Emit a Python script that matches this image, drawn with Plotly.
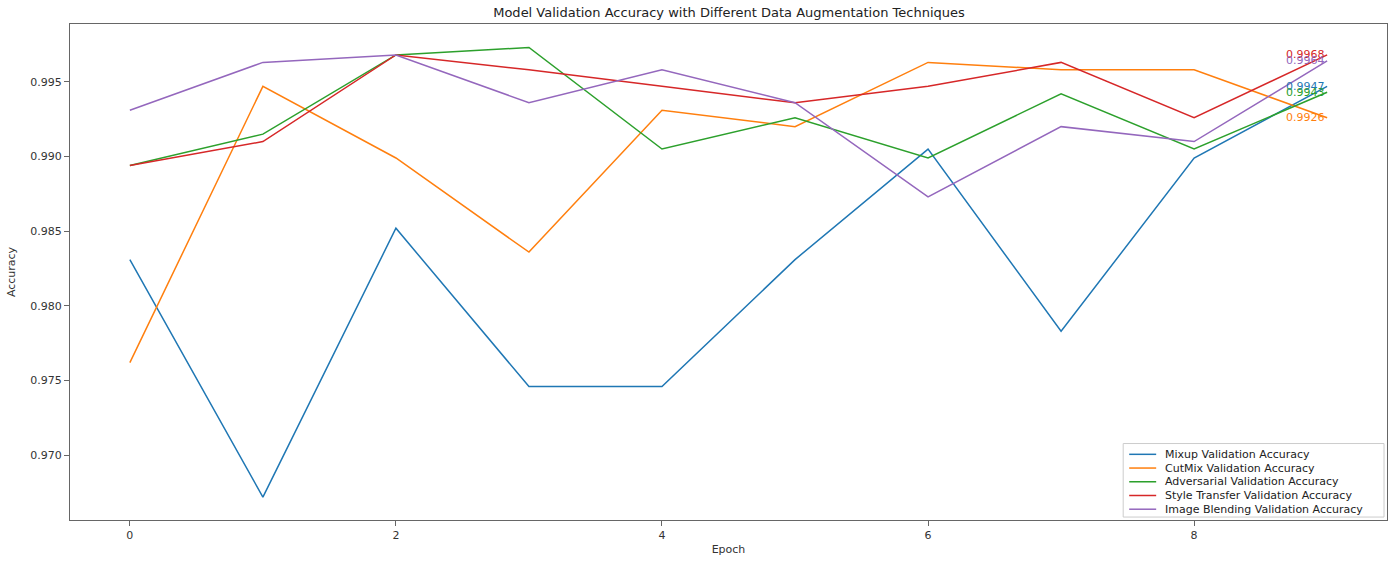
import plotly.graph_objects as go

# Validation accuracy per epoch for each augmentation technique
epochs = list(range(10))

mixup_acc = [0.9831, 0.9672, 0.9852, 0.9746, 0.9746, 0.9831, 0.9905, 0.9783, 0.9899, 0.9947]
cutmix_acc = [0.9762, 0.9947, 0.9899, 0.9836, 0.9931, 0.9920, 0.9963, 0.9958, 0.9958, 0.9926]
adversarial_acc = [0.9894, 0.9915, 0.9968, 0.9973, 0.9905, 0.9926, 0.9899, 0.9942, 0.9905, 0.9943]
style_transfer_acc = [0.9894, 0.9910, 0.9968, 0.9958, 0.9947, 0.9936, 0.9947, 0.9963, 0.9926, 0.9968]
image_blending_acc = [0.9931, 0.9963, 0.9968, 0.9936, 0.9958, 0.9936, 0.9873, 0.9920, 0.9910, 0.9964]

series_names = [
    "Mixup Validation Accuracy",
    "CutMix Validation Accuracy",
    "Adversarial Validation Accuracy",
    "Style Transfer Validation Accuracy",
    "Image Blending Validation Accuracy",
]
series_values = [mixup_acc, cutmix_acc, adversarial_acc, style_transfer_acc, image_blending_acc]
colors = ["#1f77b4", "#ff7f0e", "#2ca02c", "#d62728", "#9467bd"]

x_ticks = [0, 2, 4, 6, 8]
y_ticks = [0.970, 0.975, 0.980, 0.985, 0.990, 0.995]

FONT = "DejaVu Sans"
W, H = 1395, 561
ML, MR, MT, MB = 70, 7, 24, 31
PW, PH = W - ML - MR, H - MT - MB


def px_to_paper(px, py):
    """Convert page pixel position to paper coordinates of the plot area."""
    return (px - ML) / PW, (H - MB - py) / PH


fig = go.Figure()
for name, vals, col in zip(series_names, series_values, colors):
    fig.add_trace(go.Scatter(
        x=epochs, y=vals, mode="lines", name=name,
        line=dict(color=col, width=1.5), showlegend=False,
    ))
    # final-epoch value written next to the last point
    fig.add_annotation(
        x=epochs[-1], y=vals[-1], text=f"{vals[-1]:.4f}",
        showarrow=False, xanchor="right", yanchor="middle",
        font=dict(family=FONT, size=11, color=col),
    )

# compact legend box in the lower-right corner
box_x0, box_y0 = px_to_paper(1124, 527)
box_x1, box_y1 = px_to_paper(1385, 452)
fig.add_shape(
    type="rect", xref="paper", yref="paper",
    x0=box_x0, y0=box_y0, x1=box_x1, y1=box_y1,
    line=dict(color="#cccccc", width=1), fillcolor="rgba(255,255,255,0.85)",
    layer="above",
)
for i, (name, col) in enumerate(zip(series_names, colors)):
    row_y = 463 + i * 14
    lx0, ly = px_to_paper(1130, row_y)
    lx1, _ = px_to_paper(1157, row_y)
    fig.add_shape(
        type="line", xref="paper", yref="paper",
        x0=lx0, y0=ly, x1=lx1, y1=ly,
        line=dict(color=col, width=1.5), layer="above",
    )
    tx, _ = px_to_paper(1164, row_y)
    fig.add_annotation(
        xref="paper", yref="paper", x=tx, y=ly, text=name,
        showarrow=False, xanchor="left", yanchor="middle",
        font=dict(family=FONT, size=11, color="#222222"),
    )

axis_common = dict(
    showgrid=False, zeroline=False, showline=True, mirror=True,
    linecolor="#666666", linewidth=1, ticks="outside", ticklen=5,
    tickcolor="#666666", tickfont=dict(family=FONT, size=11, color="#333333"),
)

fig.update_layout(
    width=W, height=H,
    margin=dict(l=ML, r=MR, t=MT, b=MB),
    paper_bgcolor="white", plot_bgcolor="white",
    showlegend=False,
    title=dict(
        text="Model Validation Accuracy with Different Data Augmentation Techniques",
        x=(ML + PW / 2) / W, xanchor="center",
        y=1 - 12 / H, yanchor="middle",
        font=dict(family=FONT, size=13, color="#222222"),
    ),
    xaxis=dict(
        range=[-0.45, 9.45], tickvals=x_ticks,
        title=dict(text="Epoch", font=dict(family=FONT, size=11, color="#333333"), standoff=4),
        **axis_common,
    ),
    yaxis=dict(
        range=[0.96567, 0.99887], tickvals=y_ticks, tickformat=".3f",
        title=dict(text="Accuracy", font=dict(family=FONT, size=11, color="#333333"), standoff=12),
        **axis_common,
    ),
)

fig.write_html("out.html")
